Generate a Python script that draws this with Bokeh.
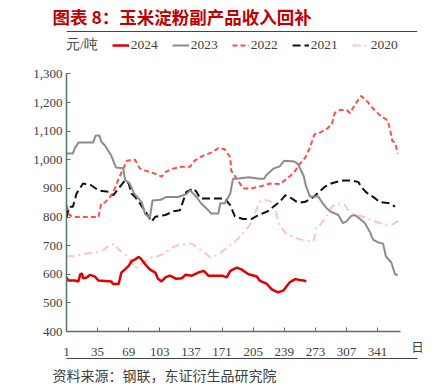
from bokeh.plotting import figure
from bokeh.models import (FixedTicker, NumeralTickFormatter, Legend, LegendItem, Range1d,
                          LinearAxis, Title, Span)
from bokeh.embed import file_html
from bokeh.resources import INLINE

# ---------------- data ----------------
x_ticks = [1, 35, 69, 103, 137, 171, 205, 239, 273, 307, 341]
y_ticks = [400, 500, 600, 700, 800, 900, 1000, 1100, 1200, 1300]

days_2024 = [1, 3, 10, 14, 16, 18, 19, 23, 27, 32, 36, 50, 52, 58, 61, 65, 69, 72, 76, 80,
             83, 87, 92, 98, 101, 105, 109, 114, 121, 127, 131, 138, 145, 151, 156, 167, 171,
             176, 180, 187, 192, 200, 209, 212, 220, 225, 232, 238, 242, 245, 251, 256, 260, 263]
vals_2024 = [589, 578, 578, 575, 600, 603, 586, 589, 598, 592, 578, 575, 566, 566, 606, 617,
             629, 646, 652, 661, 652, 635, 617, 606, 584, 575, 589, 595, 584, 586, 598, 595,
             606, 612, 595, 595, 595, 589, 612, 623, 617, 600, 592, 578, 566, 548, 537, 543,
             560, 572, 583, 580, 578, 575]

days_2023 = [1, 8, 10, 14, 30, 33, 37, 39, 43, 50, 55, 63, 65, 70, 75, 83, 87, 90, 92, 95,
             104, 110, 123, 132, 136, 143, 148, 156, 159, 167, 169, 174, 180, 183, 189, 200,
             212, 217, 219, 227, 234, 239, 250, 254, 260, 263, 267, 276, 281, 285, 289, 298,
             303, 307, 312, 316, 323, 327, 333, 336, 341, 347, 350, 356, 360, 363]
vals_2023 = [1022, 1022, 1040, 1060, 1060, 1085, 1085, 1063, 1050, 1014, 973, 970, 930, 917,
             882, 853, 810, 803, 795, 858, 860, 870, 870, 880, 893, 870, 848, 824, 812, 812,
             848, 848, 882, 934, 935, 939, 934, 934, 945, 969, 977, 997, 994, 985, 945, 905,
             872, 872, 848, 832, 820, 807, 779, 785, 803, 807, 790, 779, 745, 721, 712, 707,
             663, 641, 600, 597]

days_2022 = [1, 4, 10, 36, 39, 43, 50, 54, 58, 62, 67, 76, 81, 87, 98, 105, 109, 116, 127,
             136, 141, 150, 160, 167, 174, 180, 181, 187, 194, 203, 214, 223, 234, 242, 250,
             256, 262, 267, 272, 278, 285, 291, 294, 300, 307, 311, 316, 323, 330, 334, 343,
             352, 355, 357, 360, 363]
vals_2022 = [841, 807, 800, 800, 848, 851, 876, 900, 934, 962, 997, 1000, 970, 962, 951, 941,
             957, 968, 976, 976, 997, 1014, 1026, 1041, 1037, 1008, 962, 934, 900, 900, 908,
             917, 915, 934, 957, 986, 1008, 1043, 1089, 1095, 1107, 1124, 1163, 1174, 1174,
             1163, 1192, 1223, 1203, 1186, 1157, 1137, 1100, 1066, 1060, 1022]

days_2021 = [1, 4, 8, 12, 19, 28, 36, 47, 52, 58, 65, 69, 72, 76, 81, 87, 94, 98, 109, 118,
             125, 128, 132, 140, 143, 147, 174, 180, 185, 194, 203, 211, 221, 227, 234, 240,
             247, 254, 262, 271, 283, 291, 302, 313, 320, 323, 329, 338, 343, 354, 360]
vals_2021 = [797, 836, 836, 882, 917, 911, 893, 888, 876, 900, 928, 917, 882, 870, 848, 820,
             784, 801, 807, 820, 824, 851, 888, 900, 888, 865, 865, 841, 802, 793, 793, 807,
             820, 836, 853, 876, 865, 850, 853, 870, 905, 918, 928, 928, 922, 905, 885, 866,
             853, 848, 836]

days_2020 = [1, 10, 21, 32, 39, 47, 54, 58, 63, 67, 72, 76, 81, 87, 94, 101, 109, 116, 125,
             136, 140, 145, 152, 158, 167, 174, 181, 189, 194, 201, 207, 211, 214, 220, 225,
             229, 231, 234, 240, 245, 250, 258, 265, 271, 274, 278, 285, 291, 298, 305, 311,
             318, 325, 334, 343, 350, 358, 365]
vals_2020 = [663, 663, 672, 675, 681, 698, 707, 686, 675, 663, 646, 621, 631, 646, 660, 663,
             675, 693, 703, 707, 703, 690, 675, 660, 669, 686, 703, 726, 744, 770, 813, 848,
             859, 859, 853, 836, 801, 772, 744, 738, 727, 721, 716, 716, 767, 772, 801, 836,
             848, 843, 813, 807, 801, 790, 779, 772, 775, 790]

series_names = ["2024", "2023", "2022", "2021", "2020"]
title_text = "图表 8：玉米淀粉副产品收入回补"
unit_text = "元/吨"
x_unit_text = "日"
source_text = "资料来源：钢联，东证衍生品研究院"

# ---------------- styles ----------------
SERIF = "Liberation Serif"
CJK = "Noto Sans CJK SC"
AXIS_COLOR = "#56716b"
TEXT_COLOR = "#404040"
RULE_COLOR = "#454545"
styles = {
    "2024": dict(line_color="#e00000", line_width=2.5),
    "2023": dict(line_color="#8c8c8c", line_width=2),
    "2022": dict(line_color="#ff4d4d", line_width=2, line_dash="5 3"),
    "2021": dict(line_color="#111111", line_width=2, line_dash="8 4"),
    "2020": dict(line_color="#ffc4c4", line_width=2, line_dash="8 4 2 4"),
}

W, H = 425, 390
FL, FR, FT, FB = 66, 417, 26, 331          # frame edges (canvas px)
PX_PER_DAY = 334 / 365.0                   # day 1 -> 366 over 334 px
PX_PER_UNIT = 261 / 900.0                  # 400 -> 1300 over 261 px
x_end = 1 + (FR - FL) / PX_PER_DAY
y_top = y_ticks[0] + (FB - FT) / PX_PER_UNIT

p = figure(width=W, height=H, output_backend="svg", toolbar_location=None,
           x_range=Range1d(x_ticks[0], x_end), y_range=Range1d(y_ticks[0], y_top),
           min_border_left=FL, min_border_right=W - FR, min_border_top=FT,
           min_border_bottom=H - FB)
p.outline_line_color = None
p.xgrid.visible = False
p.ygrid.visible = False

# title (above)
p.title.text = title_text
p.title.align = "left"
p.title.offset = -14
p.title.standoff = 3
p.title.text_font = CJK
p.title.text_font_style = "bold"
p.title.text_font_size = "17.5px"
p.title.text_color = "#c00000"

for ax in (p.xaxis[0], p.yaxis[0]):
    ax.axis_line_color = AXIS_COLOR
    ax.axis_line_width = 1.5
    ax.major_tick_line_color = AXIS_COLOR
    ax.major_tick_in = 4
    ax.major_tick_out = 0
    ax.minor_tick_line_color = None
    ax.major_label_text_font = SERIF
    ax.major_label_text_font_size = "13px"
    ax.major_label_text_color = TEXT_COLOR

xa = p.xaxis[0]
xa.bounds = (x_ticks[0], 366)
xa.ticker = FixedTicker(ticks=x_ticks)
xa.major_label_standoff = 16
xa.axis_label = x_unit_text
xa.axis_label_text_font = CJK
xa.axis_label_text_font_style = "normal"
xa.axis_label_text_font_size = "12.5px"
xa.axis_label_text_color = TEXT_COLOR
xa.axis_label_standoff = -22
xa.axis_label_align = "end"

ya = p.yaxis[0]
ya.bounds = (y_ticks[0], y_ticks[-1])
ya.ticker = FixedTicker(ticks=y_ticks)
ya.formatter = NumeralTickFormatter(format="0,0")
ya.major_label_standoff = 4

# top separator rule, just inside the top of the frame
p.add_layout(Span(location=y_top - (27 - FT) / PX_PER_UNIT, dimension="width",
                  line_color=RULE_COLOR, line_width=1.2))

# bottom separator rule: a line-only axis under the x axis
rule_ax = LinearAxis(ticker=FixedTicker(ticks=[x_ticks[0]]), axis_line_color=RULE_COLOR,
                     axis_line_width=1.2, major_tick_in=0, major_tick_out=0,
                     major_tick_line_color=None, minor_tick_line_color=None,
                     major_label_standoff=0, major_label_text_font_size="0px",
                     major_label_overrides={x_ticks[0]: ""})
p.add_layout(rule_ax, "below")

# source note (below)
p.add_layout(Title(text=source_text, align="left", offset=-14, standoff=8,
                   text_font=CJK, text_font_size="14px", text_font_style="normal",
                   text_color=TEXT_COLOR), "below")

r = {}
r["2020"] = p.line(days_2020, vals_2020, **styles["2020"])
r["2021"] = p.line(days_2021, vals_2021, **styles["2021"])
r["2022"] = p.line(days_2022, vals_2022, **styles["2022"])
r["2023"] = p.line(days_2023, vals_2023, **styles["2023"])
r["2024"] = p.line(days_2024, vals_2024, **styles["2024"])

# unit text as a legend entry with an invisible swatch
unit_swatch = p.line(x=[], y=[], line_alpha=0)
items = [LegendItem(label=unit_text, renderers=[unit_swatch])]
items += [LegendItem(label=n, renderers=[r[n]]) for n in series_names]

# legend: location is the legend's bottom-left corner, in px from the frame's bottom-left;
# shifted left by the (empty) swatch width so the unit text starts at the frame edge
legend = Legend(items=items, orientation="horizontal", location=(-19, FB - 54.7),
                spacing=14, glyph_width=17, glyph_height=20, label_standoff=2,
                label_text_font=SERIF, label_text_font_size="13.5px",
                label_text_color=TEXT_COLOR, padding=0, margin=0,
                border_line_color=None, background_fill_alpha=0)
p.add_layout(legend, "center")

open("out.html", "w").write(file_html(p, INLINE))
